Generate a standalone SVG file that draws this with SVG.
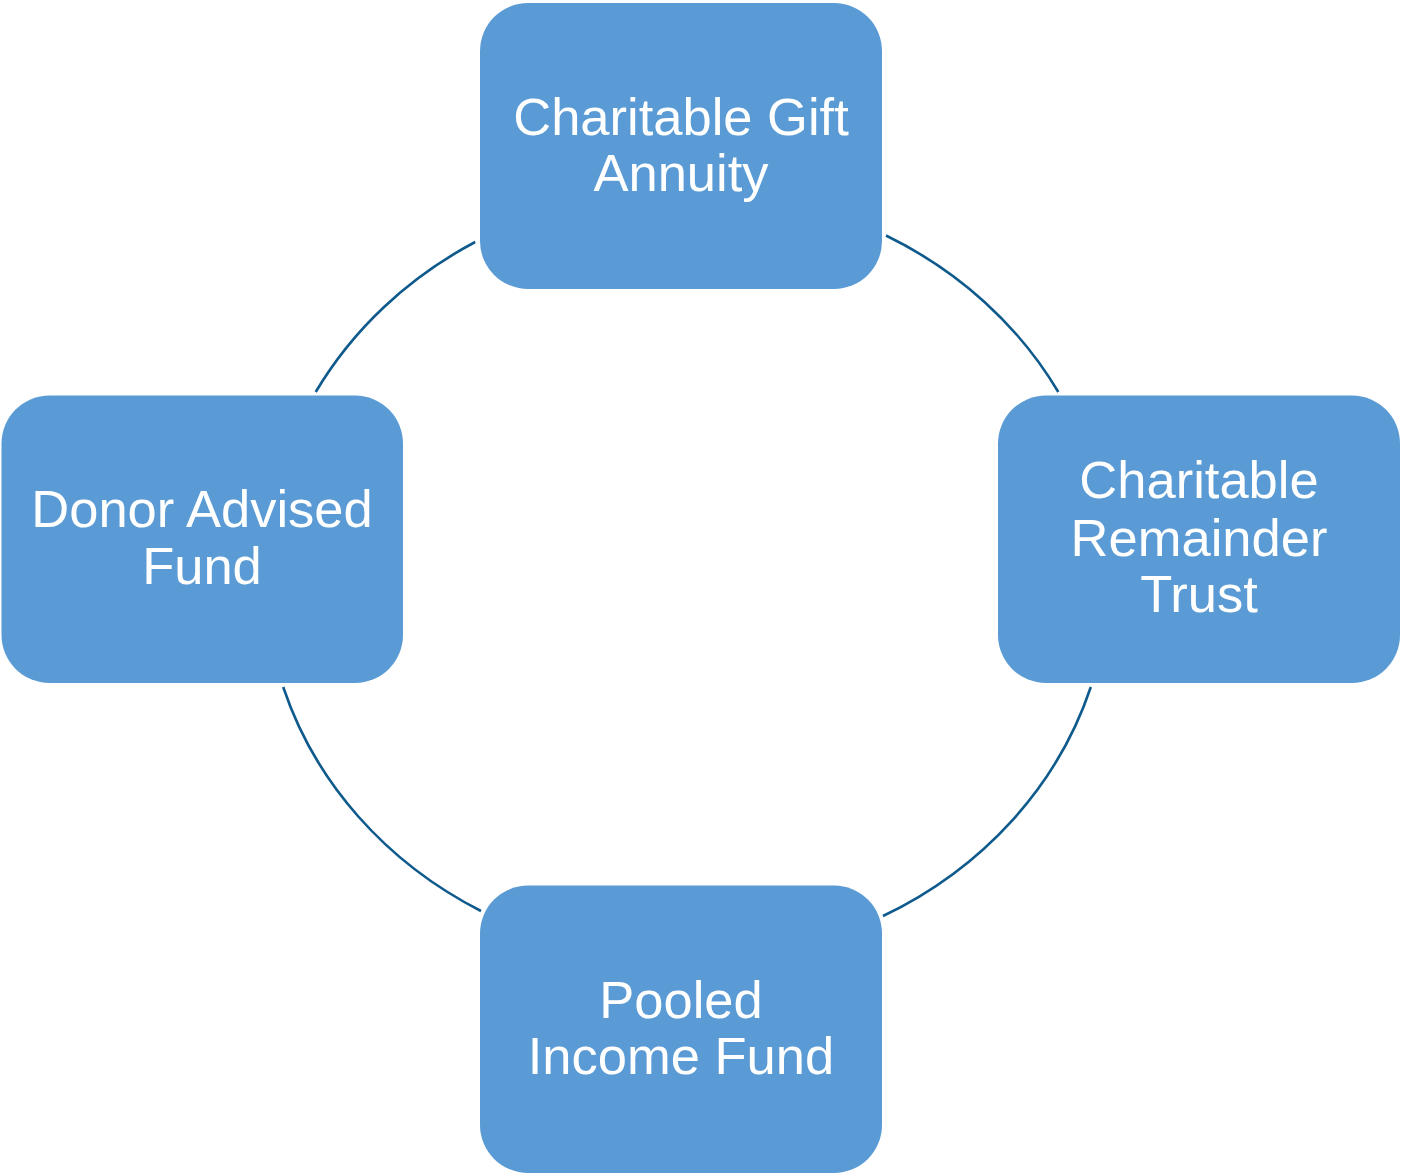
<svg xmlns="http://www.w3.org/2000/svg" width="1401" height="1176" viewBox="0 0 1401 1176">
  <style>
    .box { fill: #5B9BD5; }
    .label { font-family: "Liberation Sans", Arial, sans-serif; font-size: 52.5px; fill: #FFFFFF; text-anchor: middle; }
    .arc { fill: none; stroke: #0F5A8C; stroke-width: 2.6; }
  </style>
  <rect width="1401" height="1176" fill="#FFFFFF"/>

  <!-- cycle arcs between the four boxes -->
  <g id="connectors">
    <path class="arc" d="M 315.7 392 A 422 385 0 0 1 475.2 242"/>
    <path class="arc" d="M 886 235.5 A 422 385 0 0 1 1058.3 392"/>
    <path class="arc" d="M 1090.8 687 A 422 385 0 0 1 883 916"/>
    <path class="arc" d="M 481 911 A 422 385 0 0 1 283.2 687"/>
  </g>

  <g id="node-gift-annuity">
    <rect class="box" x="480" y="3" width="402" height="286" rx="48" ry="48"/>
    <text class="label" x="681" y="135">Charitable Gift</text>
    <text class="label" x="681" y="191">Annuity</text>
  </g>

  <g id="node-remainder-trust">
    <rect class="box" x="998" y="395.5" width="402" height="287.5" rx="48" ry="48"/>
    <text class="label" x="1199" y="498">Charitable</text>
    <text class="label" x="1199" y="556">Remainder</text>
    <text class="label" x="1199" y="612">Trust</text>
  </g>

  <g id="node-pooled-income">
    <rect class="box" x="480" y="885.5" width="402" height="287.5" rx="48" ry="48"/>
    <text class="label" x="681" y="1018">Pooled</text>
    <text class="label" x="681" y="1074">Income Fund</text>
  </g>

  <g id="node-donor-advised">
    <rect class="box" x="1.5" y="395.5" width="401.5" height="287.5" rx="48" ry="48"/>
    <text class="label" x="202" y="527">Donor Advised</text>
    <text class="label" x="202" y="584">Fund</text>
  </g>
</svg>
